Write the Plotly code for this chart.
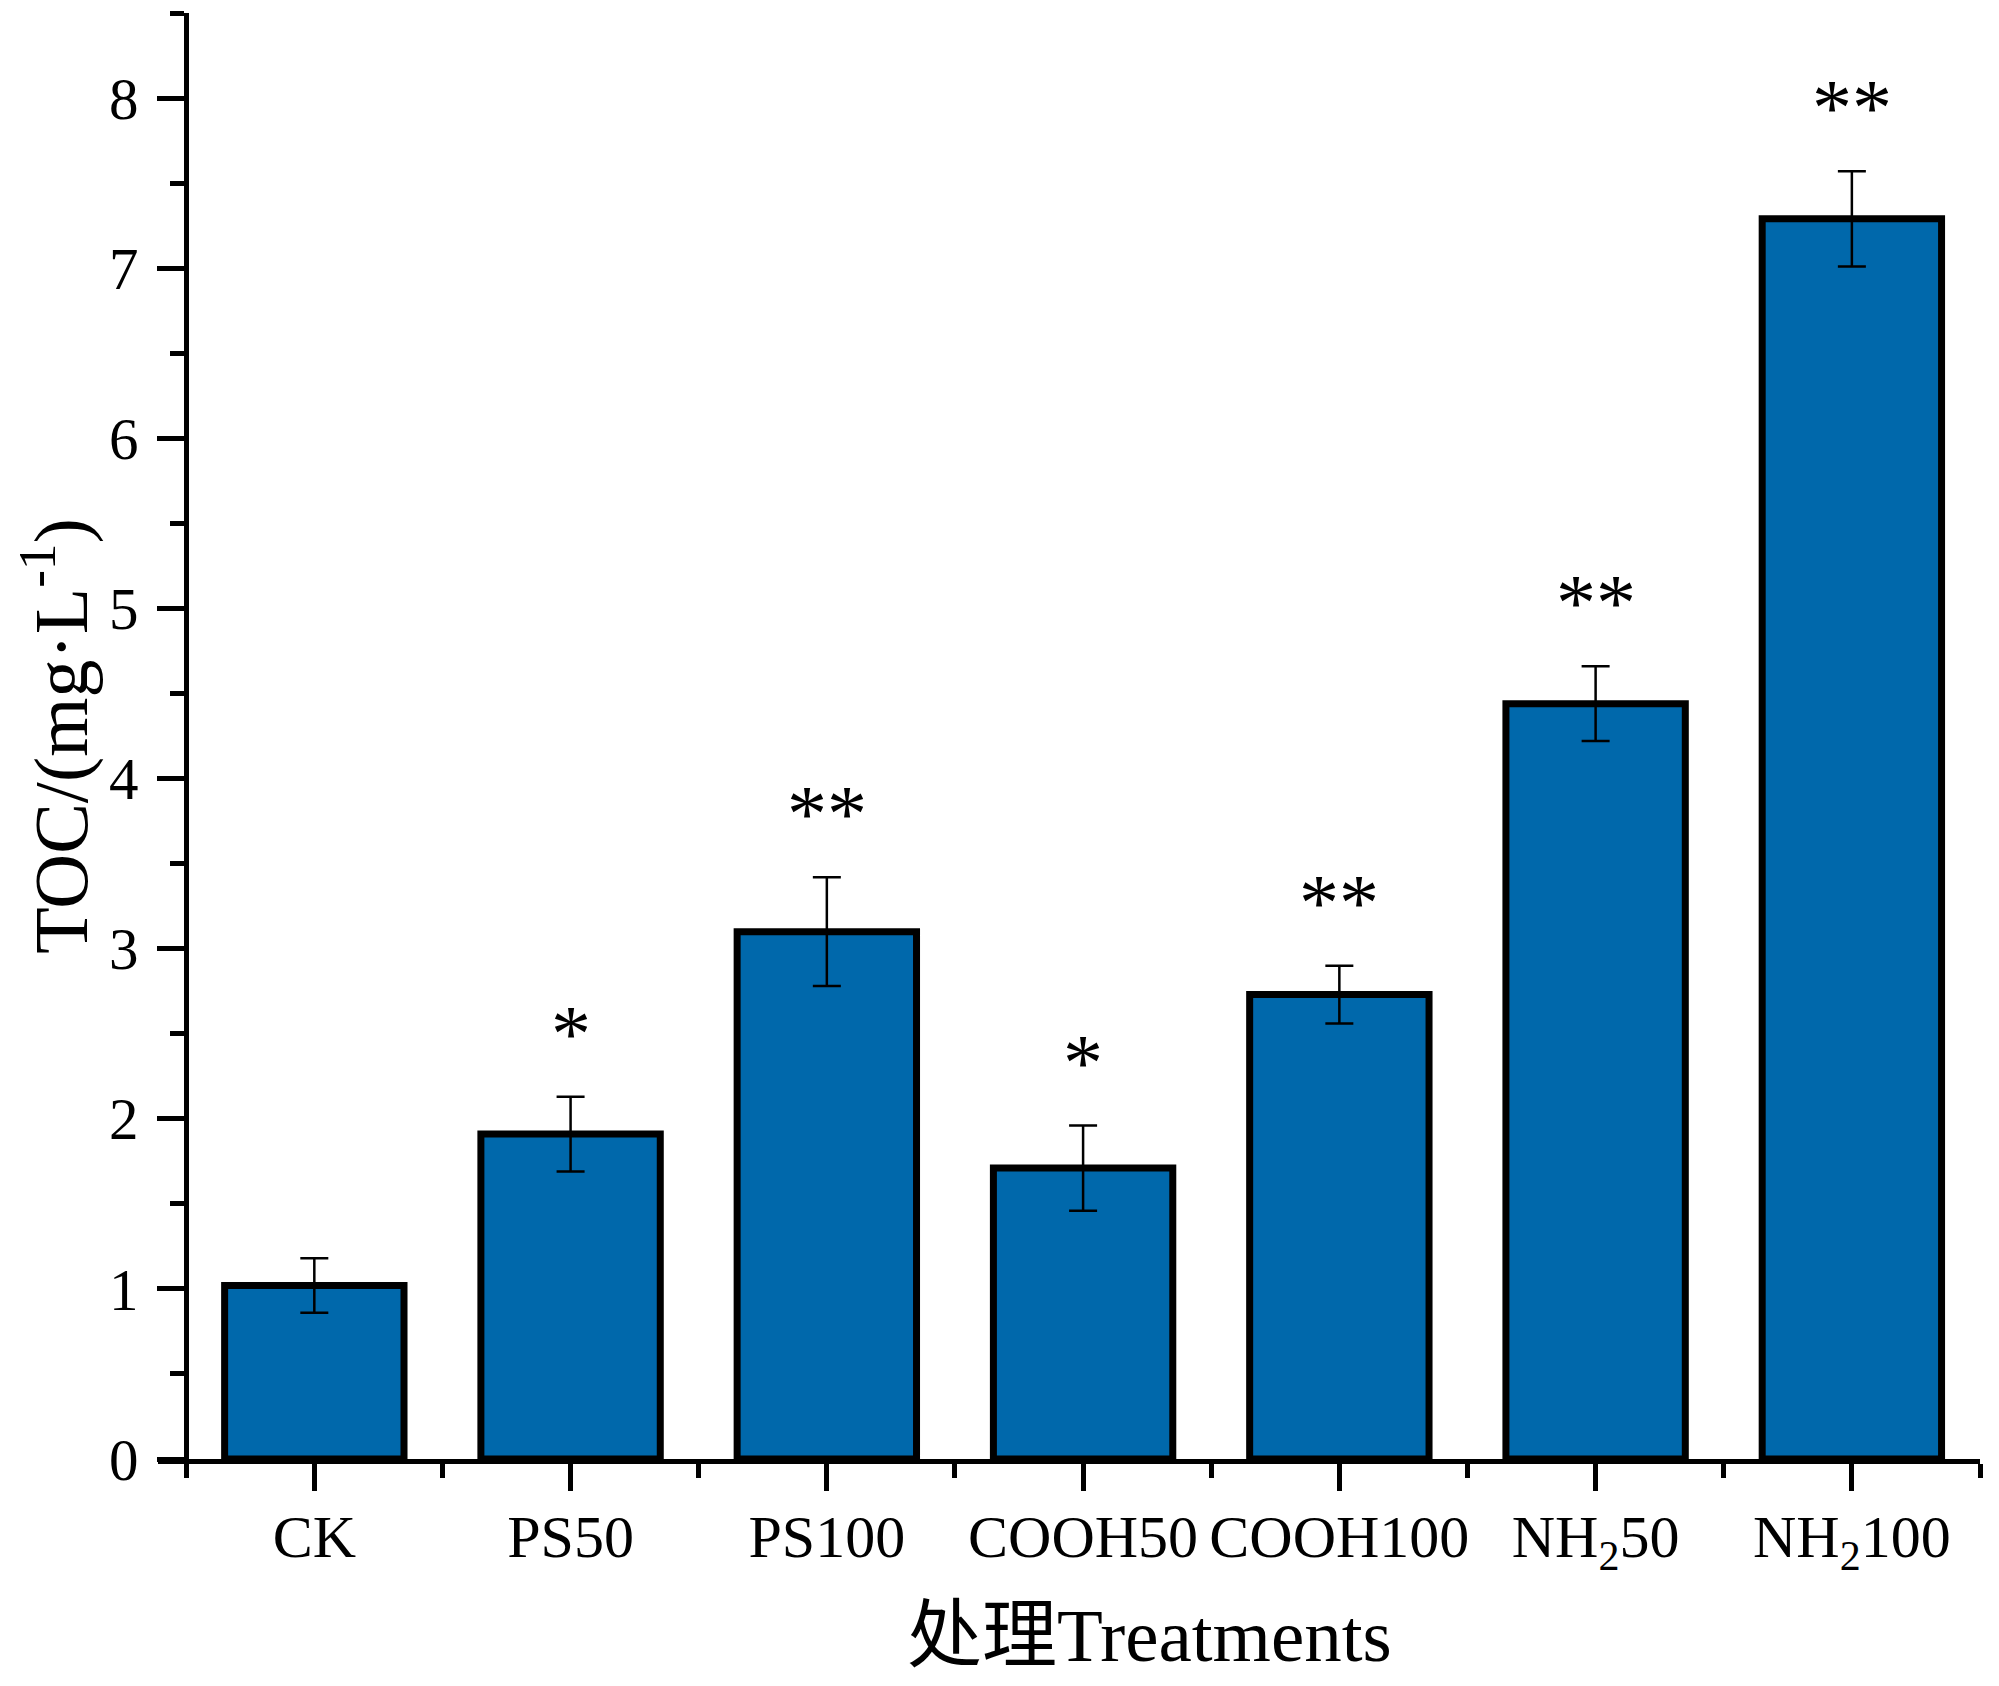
import plotly.graph_objects as go

categories = ["CK", "PS50", "PS100", "COOH50", "COOH100", "NH<sub>2</sub>50", "NH<sub>2</sub>100"]
toc_mean = [1.02, 1.91, 3.10, 1.71, 2.73, 4.44, 7.29]
toc_err = [0.16, 0.22, 0.32, 0.25, 0.17, 0.22, 0.28]
signif = ["", "*", "**", "*", "**", "**", "**"]
y_ticks = [0, 1, 2, 3, 4, 5, 6, 7, 8]
x_title = "处理Treatments"
y_title = "TOC/(mg·L<sup>-1</sup>)"

x_idx = list(range(len(categories)))
FONT = "Liberation Serif, Times New Roman, Noto Sans CJK SC"

fig = go.Figure()
fig.add_trace(go.Bar(
    x=x_idx, y=toc_mean, width=0.70,
    marker=dict(color="#0068AB", line=dict(color="black", width=7)),
    error_y=dict(type="data", array=toc_err, visible=True, color="black",
                 thickness=2.5, width=14),
    showlegend=False,
))

for i, (m, e, s) in enumerate(zip(toc_mean, toc_err, signif)):
    if s:
        fig.add_annotation(x=i, y=m + e, text=s, showarrow=False,
                           yanchor="bottom", yshift=17,
                           font=dict(family=FONT, size=80, color="black"))

# x-axis title (offset to the right of the plot centre, as in the original)
fig.add_annotation(x=0.544, y=0, xref="paper", yref="paper", text=x_title,
                   showarrow=False, xanchor="center", yanchor="top", yshift=-133,
                   font=dict(family=FONT, size=75, color="black"))

x_lo, x_hi = -0.61, 6.5
fig.update_layout(
    width=1999, height=1686,
    margin=dict(l=150, r=27, t=5, b=235),
    paper_bgcolor="white", plot_bgcolor="white",
    font=dict(family=FONT, color="black"),
)
fig.update_xaxes(
    range=[x_lo, x_hi], tickvals=x_idx, ticktext=categories,
    showline=True, linecolor="black", linewidth=5,
    ticks="outside", ticklen=27, tickwidth=4.5, tickcolor="black",
    minor=dict(tickvals=[i - 0.5 for i in range(len(categories) + 1)],
               ticks="outside", ticklen=14, tickwidth=4.5, tickcolor="black"),
    tickfont=dict(family=FONT, size=60),
    ticklabelstandoff=-6,
    showgrid=False, zeroline=False,
    automargin=False,
)
fig.update_yaxes(
    range=[0, 8.5], tickvals=y_ticks,
    anchor="free", position=(-0.5 - x_lo) / (x_hi - x_lo),
    showline=True, linecolor="black", linewidth=5,
    ticks="outside", ticklen=27, tickwidth=4.5, tickcolor="black",
    minor=dict(dtick=0.5, ticks="outside", ticklen=14, tickwidth=4.5, tickcolor="black"),
    tickfont=dict(family=FONT, size=59),
    ticklabelstandoff=7,
    showgrid=False, zeroline=False,
    title=dict(text=y_title, font=dict(family=FONT, size=76), standoff=20),
    automargin=False,
)

fig.write_html("out.html")
